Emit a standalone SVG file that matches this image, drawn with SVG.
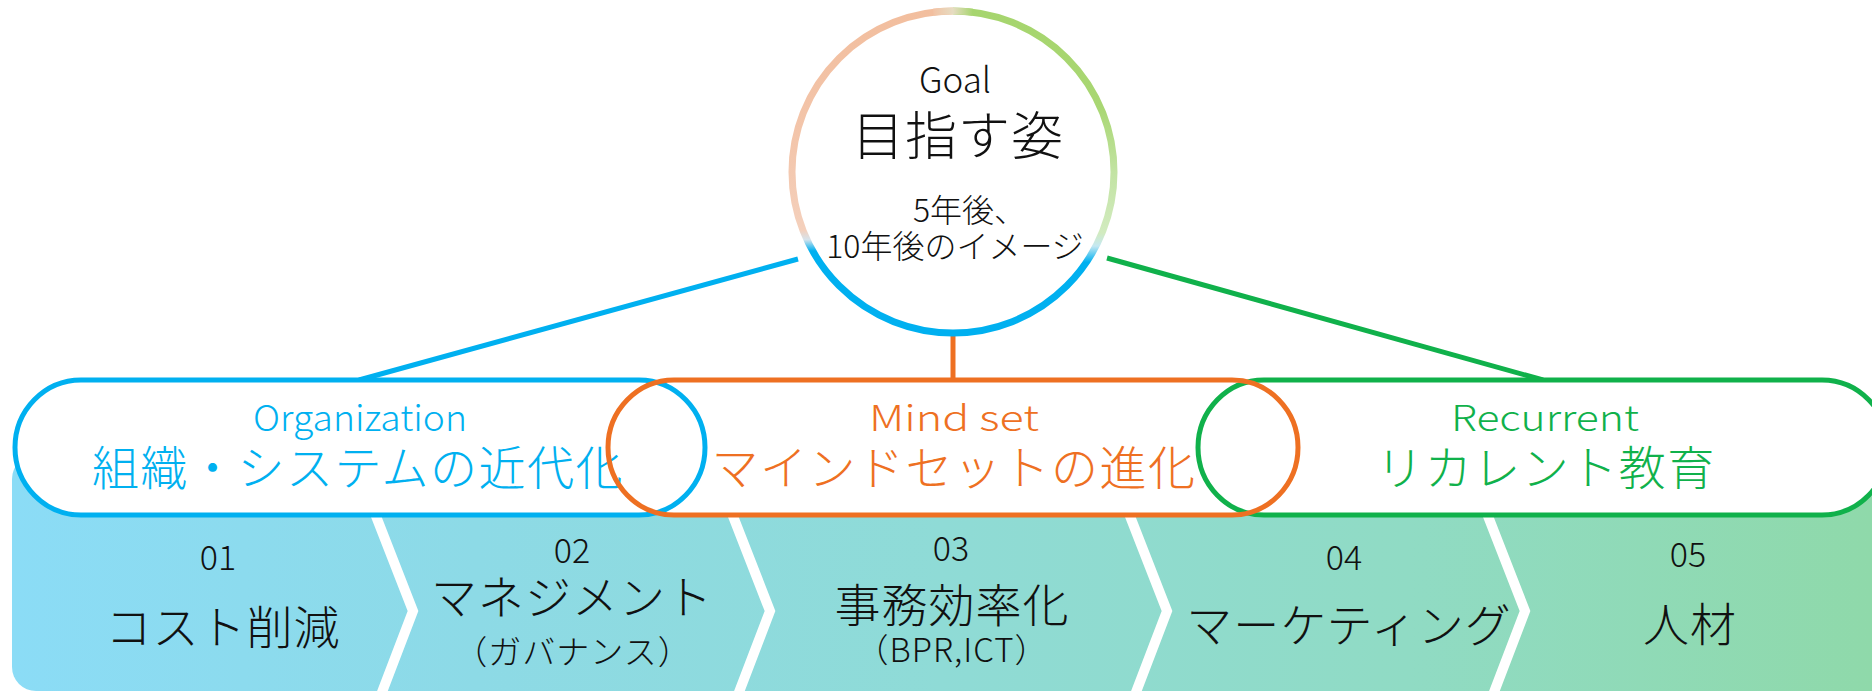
<svg xmlns="http://www.w3.org/2000/svg" width="1872" height="691" viewBox="0 0 1872 691">
  <style>
    .jp { font-family: "Noto Sans CJK JP", "Noto Sans", sans-serif; font-weight: 300; }
    .blk { fill: #111111; }
    .num { font-size: 34px; text-anchor: middle; }
    .main { font-size: 46px; text-anchor: middle; letter-spacing: 1px; }
    .sub { font-size: 33px; text-anchor: middle; letter-spacing: 1px; }
    .en { font-size: 36px; text-anchor: middle; }
    .pilljp { font-size: 47px; text-anchor: middle; letter-spacing: 1.5px; }
    .pill { fill: none; stroke-width: 5; }
    .conn { fill: none; stroke-width: 5; }
    .divider { fill: none; stroke: #ffffff; stroke-width: 10; stroke-linejoin: miter; }
  </style>
  <defs>
    <linearGradient id="bandGrad" gradientUnits="userSpaceOnUse" x1="12" y1="0" x2="1872" y2="0">
      <stop offset="0" stop-color="#8BDCF6"/>
      <stop offset="0.25" stop-color="#8DDAE6"/>
      <stop offset="0.5" stop-color="#8FDBD6"/>
      <stop offset="0.75" stop-color="#90DBC4"/>
      <stop offset="1" stop-color="#8FD9AA"/>
    </linearGradient>
    <linearGradient id="ringLeft" gradientUnits="userSpaceOnUse" x1="0" y1="11" x2="0" y2="333">
      <stop offset="0" stop-color="#F2BE9E"/>
      <stop offset="0.43" stop-color="#F3C6AC"/>
      <stop offset="0.68" stop-color="#F4D0BC"/>
      <stop offset="0.71" stop-color="#D6E3EC"/>
      <stop offset="0.745" stop-color="#00B0F0"/>
      <stop offset="1" stop-color="#00B0F0"/>
    </linearGradient>
    <linearGradient id="ringRight" gradientUnits="userSpaceOnUse" x1="0" y1="11" x2="0" y2="333">
      <stop offset="0" stop-color="#A6D56E"/>
      <stop offset="0.3" stop-color="#A9D773"/>
      <stop offset="0.5" stop-color="#C2E3A2"/>
      <stop offset="0.69" stop-color="#D2EBC0"/>
      <stop offset="0.73" stop-color="#C5E8F2"/>
      <stop offset="0.78" stop-color="#00B0F0"/>
      <stop offset="1" stop-color="#00B0F0"/>
    </linearGradient>
    <linearGradient id="ringTop" gradientUnits="userSpaceOnUse" x1="933" y1="0" x2="973" y2="0">
      <stop offset="0" stop-color="#F2C2A4"/>
      <stop offset="0.5" stop-color="#E6DCC2"/>
      <stop offset="1" stop-color="#A6D56E"/>
    </linearGradient>
  </defs>

  <rect width="1872" height="691" fill="#ffffff"/>

  <!-- process band -->
  <g id="band">
    <rect x="12" y="455" width="1900" height="236" rx="24" ry="24" fill="url(#bandGrad)"/>
    <polyline class="divider" points="358,470 413,611 379,700"/>
    <polyline class="divider" points="715,470 770,611 736,700"/>
    <polyline class="divider" points="1112,470 1167,611 1133,700"/>
    <polyline class="divider" points="1470,470 1525,611 1491,700"/>
  </g>

  <!-- connectors -->
  <g id="connectors">
    <line class="conn" x1="798" y1="259" x2="359" y2="380" stroke="#00B0F0"/>
    <line class="conn" x1="953" y1="336" x2="953" y2="380" stroke="#EE7022"/>
    <line class="conn" x1="1107" y1="258" x2="1543" y2="380" stroke="#10B14B"/>
  </g>

  <!-- goal node -->
  <g id="goal">
    <circle cx="953" cy="172" r="161" fill="#ffffff"/>
    <path d="M 953 11 A 161 161 0 0 0 953 333" fill="none" stroke="url(#ringLeft)" stroke-width="7"/>
    <path d="M 953 11 A 161 161 0 0 1 953 333" fill="none" stroke="url(#ringRight)" stroke-width="7"/>
    <path d="M 933.4 12.2 A 161 161 0 0 1 972.6 12.2" fill="none" stroke="url(#ringTop)" stroke-width="7"/>
    <text class="jp blk" x="955" y="93" font-size="35" text-anchor="middle">Goal</text>
    <text class="jp blk" x="958" y="155" font-size="52" text-anchor="middle" letter-spacing="1">目指す姿</text>
    <text class="jp blk" x="913" y="222" font-size="32">5年後、</text>
    <text class="jp blk" x="955" y="258" font-size="32" text-anchor="middle">10年後のイメージ</text>
  </g>

  <!-- pill backgrounds -->
  <g id="pill-backs" fill="#ffffff">
    <rect x="15" y="380" width="690" height="135" rx="66" ry="67.5"/>
    <rect x="608" y="380" width="690" height="135" rx="66" ry="67.5"/>
    <rect x="1198" y="380" width="690" height="135" rx="66" ry="67.5"/>
  </g>

  <g id="organization">
    <rect class="pill" x="15" y="380" width="690" height="135" rx="66" ry="67.5" stroke="#00B0F0"/>
    <text class="jp en" x="360" y="431" fill="#00B0F0" textLength="214" lengthAdjust="spacingAndGlyphs">Organization</text>
    <text class="jp pilljp" x="358" y="485" fill="#00B0F0">組織・システムの近代化</text>
  </g>

  <g id="recurrent">
    <rect class="pill" x="1198" y="380" width="690" height="135" rx="66" ry="67.5" stroke="#10B14B"/>
    <text class="jp en" x="1545" y="431" fill="#10B14B" textLength="188" lengthAdjust="spacingAndGlyphs">Recurrent</text>
    <text class="jp pilljp" x="1546" y="485" fill="#10B14B">リカレント教育</text>
  </g>

  <g id="mindset">
    <rect class="pill" x="608" y="380" width="690" height="135" rx="66" ry="67.5" stroke="#EE7022"/>
    <text class="jp en" x="954" y="431" fill="#EE7022" textLength="170" lengthAdjust="spacingAndGlyphs">Mind set</text>
    <text class="jp pilljp" x="954" y="485" fill="#EE7022">マインドセットの進化</text>
  </g>

  <!-- steps -->
  <g id="step01">
    <text class="jp blk num" x="218" y="570">01</text>
    <text class="jp blk main" x="223" y="644">コスト削減</text>
  </g>
  <g id="step02">
    <text class="jp blk num" x="572" y="563">02</text>
    <text class="jp blk main" x="572" y="614">マネジメント</text>
    <text class="jp blk sub" x="573" y="664">（ガバナンス）</text>
  </g>
  <g id="step03">
    <text class="jp blk num" x="951" y="561">03</text>
    <text class="jp blk main" x="952" y="622">事務効率化</text>
    <text class="jp blk sub" x="952" y="662">（BPR,ICT）</text>
  </g>
  <g id="step04">
    <text class="jp blk num" x="1344" y="570">04</text>
    <text class="jp blk main" x="1349" y="642">マーケティング</text>
  </g>
  <g id="step05">
    <text class="jp blk num" x="1688" y="567">05</text>
    <text class="jp blk main" x="1690" y="641">人材</text>
  </g>
</svg>
